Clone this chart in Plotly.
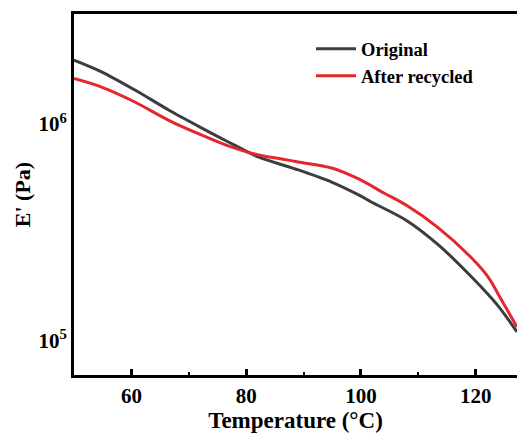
import plotly.graph_objects as go

# Data
temp_original = [50.0, 54.8, 60.7, 66.5, 72.2, 76.9, 82.1, 89.1, 94.9, 99.6, 101.8, 107.8, 113.5, 119.3, 124.0, 127.2]
e_original = [1.97e6, 1.74e6, 1.43e6, 1.16e6, 9.6e5, 8.26e5, 7.05e5, 6.14e5, 5.4e5, 4.71e5, 4.37e5, 3.61e5, 2.77e5, 1.97e5, 1.44e5, 1.10e5]

temp_recycled = [50.0, 54.8, 60.7, 66.5, 72.2, 76.9, 82.1, 86.2, 89.1, 94.9, 99.6, 104.0, 107.8, 113.5, 119.3, 122.3, 124.0, 127.2]
e_recycled = [1.62e6, 1.48e6, 1.26e6, 1.04e6, 8.9e5, 7.92e5, 7.2e5, 6.9e5, 6.68e5, 6.27e5, 5.58e5, 4.81e5, 4.24e5, 3.32e5, 2.41e5, 1.95e5, 1.63e5, 1.16e5]

x_ticks = [60, 80, 100, 120]
x_minor_ticks = [70, 90, 110]
y_ticks = [1e5, 1e6]
y_ticklabels = ["10<sup>5</sup>", "10<sup>6</sup>"]

font_family = "Liberation Serif"

fig = go.Figure()
fig.add_trace(go.Scatter(
    x=temp_original, y=e_original, mode="lines", name="<b>Original</b>",
    line=dict(color="#3d3d3d", width=3, shape="spline", smoothing=0.8),
))
fig.add_trace(go.Scatter(
    x=temp_recycled, y=e_recycled, mode="lines", name="<b>After recycled</b>",
    line=dict(color="#e5262b", width=3, shape="spline", smoothing=0.8),
))

fig.update_layout(
    width=517, height=436,
    margin=dict(l=74, r=0, t=14, b=61),
    paper_bgcolor="white", plot_bgcolor="white",
    font=dict(family=font_family, color="black", size=21),
    showlegend=True,
    legend=dict(
        x=0.535, y=0.955, xanchor="left", yanchor="top",
        bgcolor="rgba(0,0,0,0)", borderwidth=0,
        font=dict(family=font_family, size=18.5, color="black"),
        itemwidth=40, tracegroupgap=0,
    ),
    xaxis=dict(
        range=[50, 127.2],
        tickvals=x_ticks,
        ticktext=["<b>%d</b>" % v for v in x_ticks],
        ticks="inside", ticklen=6, tickwidth=2.5, tickcolor="black",
        minor=dict(tickvals=x_minor_ticks, ticks="inside", ticklen=3, tickwidth=2, tickcolor="black"),
        showline=True, linewidth=3, linecolor="black", mirror=True,
        showgrid=False, zeroline=False,
        tickfont=dict(size=21, family=font_family),
        title=dict(text="<b>Temperature (°C)</b>", font=dict(size=23, family=font_family), standoff=2),
    ),
    yaxis=dict(
        type="log",
        range=[4.843, 6.507],
        tickvals=y_ticks,
        ticktext=["<b>%s</b>" % t for t in y_ticklabels],
        ticks="", showline=True, linewidth=3, linecolor="black", mirror=False,
        showgrid=False, zeroline=False,
        tickfont=dict(size=21, family=font_family),
        title=dict(text="<b>E' (Pa)</b>", font=dict(size=22, family=font_family), standoff=2),
    ),
)

fig.write_html("out.html")
